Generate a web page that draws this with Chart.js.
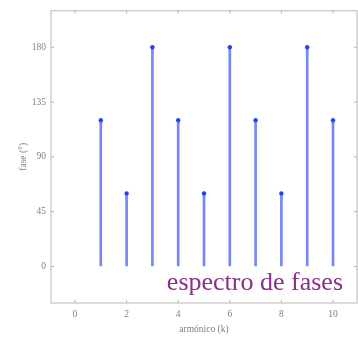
<!DOCTYPE html>
<html>
<head>
<meta charset="utf-8">
<script src="https://cdn.jsdelivr.net/npm/chart.js@4.4.1/dist/chart.umd.min.js"></script>
<style>
  html, body { margin: 0; padding: 0; background: #fff; overflow: hidden; }
  canvas { display: block; }
</style>
</head>
<body>
<canvas id="myChart" width="358" height="338"></canvas>
<script>
// phase spectrum data
var harmonics = [1, 2, 3, 4, 5, 6, 7, 8, 9, 10];
var phases = [120, 60, 180, 120, 60, 180, 120, 60, 180, 120];
var xTicks = [0, 2, 4, 6, 8, 10];
var yTicks = [0, 45, 90, 135, 180];

var serif = "'Liberation Serif', 'DejaVu Serif', serif";
var frameColor = "#cfcfcf";

var points = harmonics.map(function (k, i) { return { x: k, y: phases[i] }; });

// frame, inward ticks and the caption
var framePlugin = {
  id: 'frame',
  afterDraw: function (chart) {
    var ctx = chart.ctx, a = chart.chartArea;
    var sx = chart.scales.x, sy = chart.scales.y;
    ctx.save();
    ctx.strokeStyle = frameColor;
    ctx.lineWidth = 1.5;
    ctx.strokeRect(a.left, a.top, a.right - a.left, a.bottom - a.top);
    ctx.strokeStyle = "#b5b5b5";
    ctx.lineWidth = 1;
    ctx.beginPath();
    xTicks.forEach(function (v) {
      var px = sx.getPixelForValue(v);
      ctx.moveTo(px, a.bottom); ctx.lineTo(px, a.bottom - 3);
      ctx.moveTo(px, a.top); ctx.lineTo(px, a.top + 3);
    });
    yTicks.forEach(function (v) {
      var py = sy.getPixelForValue(v);
      ctx.moveTo(a.left, py); ctx.lineTo(a.left + 3, py);
      ctx.moveTo(a.right, py); ctx.lineTo(a.right - 3, py);
    });
    ctx.stroke();

    ctx.fillStyle = "#8a2f8a";
    ctx.font = "26px " + serif;
    ctx.textAlign = "right";
    ctx.textBaseline = "alphabetic";
    ctx.fillText("espectro de fases", a.right - 14, 290);
    ctx.restore();
  }
};

var ctx = document.getElementById("myChart").getContext('2d');
var myChart = new Chart(ctx, {
  type: 'bar',
  data: {
    datasets: [{
      type: 'bar',
      data: points,
      backgroundColor: "#7686f6",
      barThickness: 2,
      grouped: false,
      order: 2
    }, {
      type: 'scatter',
      data: points,
      pointRadius: 2.2,
      pointBackgroundColor: "#2444f0",
      pointBorderWidth: 0,
      order: 1
    }]
  },
  options: {
    responsive: false,
    animation: false,
    layout: { autoPadding: false, padding: { top: 10, right: 1, left: 0, bottom: 0 } },
    plugins: {
      legend: { display: false },
      tooltip: { enabled: false }
    },
    scales: {
      x: {
        type: 'linear',
        offset: false,
        min: -0.93,
        max: 10.93,
        afterBuildTicks: function (s) { s.ticks = xTicks.map(function (v) { return { value: v }; }); },
        afterFit: function (s) { s.height = 35; },
        grid: { display: true, drawOnChartArea: false, drawTicks: false },
        border: { display: false },
        ticks: { color: "#808080", font: { family: serif, size: 9.5 }, padding: 6, maxRotation: 0 },
        title: { display: true, text: "armónico (k)", color: "#808080", font: { family: serif, size: 9.5 }, padding: { top: 0, bottom: 3 } }
      },
      y: {
        min: -30,
        max: 210,
        afterBuildTicks: function (s) { s.ticks = yTicks.map(function (v) { return { value: v }; }); },
        afterFit: function (s) { s.width = 51; },
        grid: { display: true, drawOnChartArea: false, drawTicks: false },
        border: { display: false },
        ticks: { color: "#808080", font: { family: serif, size: 9.5 }, padding: 5 },
        title: { display: true, text: "fase (°)", color: "#808080", font: { family: serif, size: 9.5 }, padding: { top: 18, bottom: 0 } }
      }
    }
  },
  plugins: [framePlugin]
});
</script>
</body>
</html>
